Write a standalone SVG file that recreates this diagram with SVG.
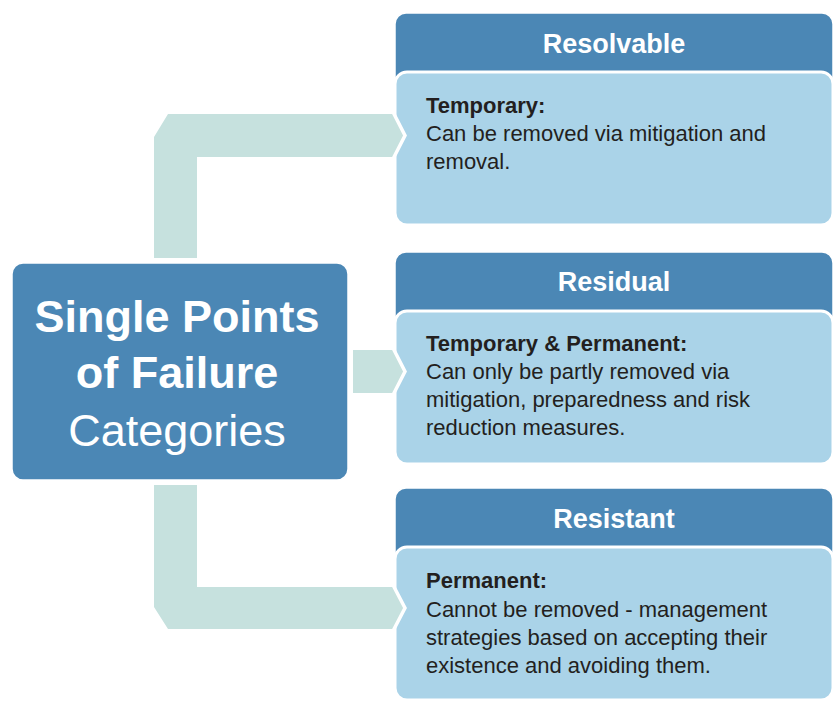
<svg xmlns="http://www.w3.org/2000/svg" width="835" height="709" viewBox="0 0 835 709">
  <style>
    .hdr { fill: #4b87b5; stroke: #ffffff; stroke-width: 1.5; }
    .body { fill: #aad3e8; stroke: #ffffff; stroke-width: 3; }
    .main { fill: #4b87b5; stroke: #ffffff; stroke-width: 1.5; }
    .conn { fill: #c6e1de; }
    .tip { fill: none; stroke: #ffffff; stroke-width: 3.5; stroke-linejoin: miter; }
    .htxt { font-family: "Liberation Sans", Arial, sans-serif; font-weight: bold; font-size: 27px; fill: #ffffff; text-anchor: middle; }
    .btxt { font-family: "Liberation Sans", Arial, sans-serif; font-size: 22px; fill: #231f20; }
    .bold { font-weight: bold; }
    .ttl { font-family: "Liberation Sans", Arial, sans-serif; font-size: 45px; fill: #ffffff; text-anchor: middle; }
  </style>
  <rect width="835" height="709" fill="#ffffff"/>

  <g id="node-resolvable">
    <rect class="hdr" x="395" y="13" width="438" height="80" rx="11"/>
    <rect class="body" x="395" y="72" width="438" height="153" rx="12"/>
    <text class="htxt" x="614" y="53">Resolvable</text>
    <text class="btxt" x="426" y="113"><tspan class="bold">Temporary:</tspan><tspan x="426" y="141">Can be removed via mitigation and</tspan><tspan x="426" y="169">removal.</tspan></text>
  </g>

  <g id="node-residual">
    <rect class="hdr" x="395" y="252" width="438" height="80" rx="11"/>
    <rect class="body" x="395" y="311" width="438" height="153" rx="12"/>
    <text class="htxt" x="614" y="291">Residual</text>
    <text class="btxt" x="426" y="351"><tspan class="bold">Temporary &amp; Permanent:</tspan><tspan x="426" y="379">Can only be partly removed via</tspan><tspan x="426" y="407">mitigation, preparedness and risk</tspan><tspan x="426" y="435">reduction measures.</tspan></text>
  </g>

  <g id="node-resistant">
    <rect class="hdr" x="395" y="488" width="438" height="80" rx="11"/>
    <rect class="body" x="395" y="547" width="438" height="153" rx="12"/>
    <text class="htxt" x="614" y="528">Resistant</text>
    <text class="btxt" x="426" y="588"><tspan class="bold">Permanent:</tspan><tspan x="426" y="617">Cannot be removed - management</tspan><tspan x="426" y="645">strategies based on accepting their</tspan><tspan x="426" y="673">existence and avoiding them.</tspan></text>
  </g>

  <g id="node-main">
    <rect class="main" x="12" y="263" width="336" height="217" rx="11"/>
    <text class="ttl" x="177" y="332" font-weight="bold">Single Points</text>
    <text class="ttl" x="177" y="388" font-weight="bold">of Failure</text>
    <text class="ttl" x="177" y="446">Categories</text>
  </g>

  <g id="connectors">
    <polygon class="conn" points="168,114 393,114 405,135.5 393,157 197,157 197,258 154,258 154,137"/>
    <polyline class="tip" points="393,112 405,135.5 393,159"/>
    <polygon class="conn" points="353,350 393,350 405,371.5 393,393 353,393"/>
    <polyline class="tip" points="393,348 405,371.5 393,395"/>
    <polygon class="conn" points="154,485 197,485 197,587 393,587 405,608 393,629 168,629 154,607"/>
    <polyline class="tip" points="393,585 405,608 393,631"/>
  </g>
</svg>
